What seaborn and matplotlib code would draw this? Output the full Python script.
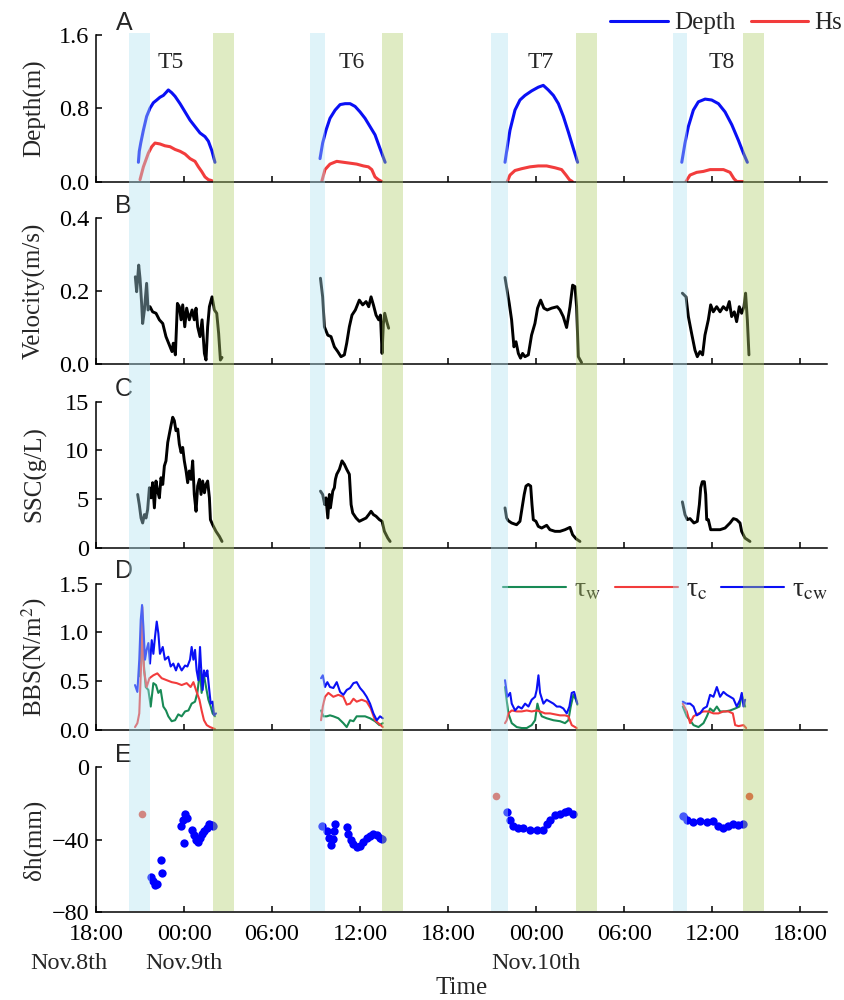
import numpy as np
import pandas as pd
import matplotlib
matplotlib.use("Agg")
import matplotlib.pyplot as plt
import seaborn as sns

# ---------------------------------------------------------------------------
# Time axis: hours elapsed since 18:00 on Nov. 8
# ---------------------------------------------------------------------------
TICK_HOURS = [0, 6, 12, 18, 24, 30, 36, 42, 48]
TICK_LABELS = ["18:00", "00:00", "06:00", "12:00", "18:00",
               "00:00", "06:00", "12:00", "18:00"]
DATE_LABELS = ["Nov.8th", "Nov.9th", "Nov.10th"]
DATE_HOURS = [-1.85, 6.0, 30.0]
X_MAX = 49.83

TIDE_NAMES = ["T5", "T6", "T7", "T8"]
TIDE_LABEL_HOURS = [5.08, 17.43, 30.33, 42.65]

# flood (start) and ebb (end) windows of each tide
FLOOD_WINDOWS = [(2.25, 3.66), (14.60, 15.63), (26.93, 28.07), (39.33, 40.29)]
EBB_WINDOWS = [(7.95, 9.39), (19.50, 20.92), (32.72, 34.15), (44.13, 45.56)]

# ---------------------------------------------------------------------------
# A: water depth and significant wave height (m)
# ---------------------------------------------------------------------------
depth_t5 = [(2.89, 0.21), (2.95, 0.33), (3.05, 0.42), (3.23, 0.56), (3.45, 0.71),
            (3.68, 0.80), (3.91, 0.86), (4.14, 0.89), (4.36, 0.92), (4.59, 0.94),
            (4.82, 0.98), (4.93, 1.00), (5.16, 0.97), (5.39, 0.93), (5.73, 0.85),
            (6.07, 0.76), (6.41, 0.67), (6.75, 0.60), (7.09, 0.53), (7.43, 0.49),
            (7.66, 0.44), (7.89, 0.34), (8.11, 0.21)]
depth_t6 = [(15.27, 0.25), (15.45, 0.42), (15.68, 0.56), (15.95, 0.69), (16.30, 0.78),
            (16.64, 0.84), (16.98, 0.85), (17.32, 0.85), (17.66, 0.82), (18.00, 0.76),
            (18.34, 0.69), (18.68, 0.60), (19.02, 0.51), (19.36, 0.36), (19.71, 0.21)]
depth_t7 = [(27.88, 0.21), (28.04, 0.38), (28.22, 0.56), (28.56, 0.78), (28.90, 0.89),
            (29.24, 0.94), (29.70, 0.99), (30.15, 1.03), (30.49, 1.05), (30.83, 1.00),
            (31.18, 0.94), (31.52, 0.85), (31.86, 0.71), (32.20, 0.54), (32.54, 0.36),
            (32.83, 0.21)]
depth_t8 = [(39.93, 0.21), (40.15, 0.42), (40.38, 0.60), (40.72, 0.78), (41.06, 0.87),
            (41.52, 0.90), (41.97, 0.89), (42.43, 0.85), (42.88, 0.76), (43.34, 0.62),
            (43.79, 0.45), (44.13, 0.31), (44.40, 0.21)]

hs_t5 = [(3.00, 0.02), (3.23, 0.16), (3.57, 0.31), (3.80, 0.38), (4.02, 0.42),
         (4.36, 0.41), (4.70, 0.39), (5.05, 0.38), (5.39, 0.35), (5.73, 0.33),
         (6.07, 0.30), (6.41, 0.25), (6.75, 0.22), (6.98, 0.16), (7.20, 0.11),
         (7.43, 0.05), (7.66, 0.02), (7.89, 0.01)]
hs_t6 = [(15.39, 0.00), (15.61, 0.13), (15.95, 0.19), (16.41, 0.22), (16.86, 0.21),
         (17.32, 0.20), (17.77, 0.19), (18.23, 0.17), (18.57, 0.16), (18.80, 0.13),
         (19.02, 0.05), (19.25, 0.02), (19.48, 0.00)]
hs_t7 = [(28.04, 0.00), (28.22, 0.07), (28.56, 0.12), (29.02, 0.14), (29.58, 0.16),
         (30.15, 0.17), (30.72, 0.17), (31.29, 0.15), (31.74, 0.13), (32.04, 0.07),
         (32.27, 0.02), (32.47, 0.00)]
hs_t8 = [(40.22, 0.00), (40.49, 0.07), (40.95, 0.10), (41.40, 0.11), (41.86, 0.13),
         (42.31, 0.13), (42.77, 0.13), (43.22, 0.10), (43.49, 0.03), (43.68, 0.00),
         (44.08, 0.00)]

# ---------------------------------------------------------------------------
# B: near-bed current velocity (m/s)
# ---------------------------------------------------------------------------
vel_t5 = [(2.68, 0.239), (2.77, 0.198), (2.91, 0.271), (3.00, 0.235), (3.11, 0.166),
          (3.18, 0.111), (3.30, 0.148), (3.45, 0.221), (3.55, 0.148), (3.68, 0.157),
          (3.86, 0.143), (4.09, 0.139), (4.32, 0.121), (4.55, 0.111), (4.77, 0.075),
          (5.00, 0.052), (5.18, 0.034), (5.27, 0.057), (5.41, 0.025), (5.55, 0.166),
          (5.68, 0.157), (5.80, 0.121), (5.91, 0.162), (6.05, 0.102), (6.18, 0.153),
          (6.36, 0.121), (6.55, 0.148), (6.70, 0.121), (6.82, 0.153), (6.93, 0.102),
          (7.09, 0.075), (7.23, 0.121), (7.39, 0.029), (7.50, 0.011), (7.61, 0.102),
          (7.73, 0.157), (7.91, 0.184), (8.07, 0.148), (8.23, 0.139), (8.36, 0.084),
          (8.48, 0.011), (8.59, 0.018)]
vel_t6 = [(15.30, 0.235), (15.45, 0.184), (15.57, 0.102), (15.80, 0.079), (16.02, 0.075),
          (16.25, 0.047), (16.48, 0.034), (16.70, 0.020), (16.93, 0.025), (17.09, 0.057),
          (17.27, 0.102), (17.45, 0.134), (17.68, 0.148), (17.95, 0.175), (18.18, 0.162),
          (18.41, 0.171), (18.59, 0.157), (18.75, 0.184), (18.91, 0.162), (19.09, 0.134),
          (19.27, 0.121), (19.39, 0.134), (19.50, 0.029), (19.59, 0.111), (19.68, 0.139),
          (19.82, 0.116), (19.95, 0.098)]
vel_t7 = [(27.88, 0.237), (28.17, 0.166), (28.33, 0.121), (28.49, 0.047), (28.63, 0.061),
          (28.79, 0.029), (28.94, 0.016), (29.08, 0.029), (29.24, 0.020), (29.47, 0.025),
          (29.69, 0.079), (29.92, 0.111), (30.10, 0.153), (30.31, 0.175), (30.53, 0.153),
          (30.76, 0.148), (31.06, 0.153), (31.44, 0.157), (31.63, 0.148), (31.85, 0.130),
          (32.08, 0.100), (32.31, 0.157), (32.49, 0.216), (32.65, 0.212), (32.76, 0.157),
          (32.88, 0.020), (33.10, 0.004)]
vel_t8 = [(39.97, 0.194), (40.22, 0.184), (40.38, 0.130), (40.60, 0.084), (40.83, 0.038),
          (40.99, 0.020), (41.17, 0.034), (41.35, 0.025), (41.51, 0.079), (41.74, 0.121),
          (41.90, 0.162), (42.08, 0.143), (42.31, 0.157), (42.54, 0.143), (42.76, 0.157),
          (42.99, 0.148), (43.17, 0.171), (43.33, 0.130), (43.51, 0.143), (43.67, 0.116),
          (43.85, 0.157), (44.01, 0.139), (44.17, 0.157), (44.28, 0.194), (44.40, 0.121),
          (44.51, 0.025)]

# ---------------------------------------------------------------------------
# C: suspended sediment concentration (g/L)
# ---------------------------------------------------------------------------
ssc_t5 = [(2.84, 5.45), (2.95, 4.41), (3.07, 3.03), (3.18, 2.52), (3.30, 3.38),
          (3.41, 3.03), (3.52, 3.90), (3.64, 6.14), (3.75, 5.10), (3.86, 6.66),
          (3.98, 4.07), (4.09, 6.83), (4.20, 5.79), (4.32, 5.10), (4.43, 7.17),
          (4.55, 6.48), (4.66, 8.38), (4.77, 8.90), (4.89, 10.79), (5.00, 11.66),
          (5.11, 12.52), (5.23, 13.38), (5.34, 13.03), (5.45, 12.00), (5.57, 12.17),
          (5.68, 10.62), (5.80, 9.76), (5.91, 10.28), (6.02, 8.90), (6.14, 7.86),
          (6.25, 6.66), (6.36, 7.86), (6.48, 7.00), (6.59, 8.90), (6.70, 5.45),
          (6.82, 3.72), (6.93, 6.31), (7.05, 7.00), (7.16, 5.45), (7.27, 6.83),
          (7.39, 5.62), (7.50, 6.48), (7.61, 6.83), (7.73, 5.10), (7.80, 2.86),
          (7.95, 2.34), (8.18, 1.66), (8.41, 1.14), (8.59, 0.62)]
ssc_t6 = [(15.30, 5.79), (15.45, 5.45), (15.59, 4.41), (15.68, 5.10), (15.80, 3.03),
          (15.91, 5.45), (15.98, 4.07), (16.14, 5.79), (16.25, 6.14), (16.32, 7.00),
          (16.41, 7.52), (16.59, 8.03), (16.77, 8.90), (16.93, 8.55), (17.09, 8.03),
          (17.27, 7.52), (17.39, 4.41), (17.50, 3.55), (17.73, 3.03), (17.95, 2.69),
          (18.18, 2.86), (18.41, 3.03), (18.59, 3.38), (18.75, 3.72), (18.91, 3.38),
          (19.09, 3.21), (19.32, 2.86), (19.50, 2.69), (19.66, 1.66), (19.89, 0.97),
          (20.05, 0.62)]
ssc_t7 = [(27.88, 4.07), (27.99, 3.03), (28.10, 2.76), (28.33, 2.52), (28.67, 2.34),
          (28.90, 2.69), (29.08, 4.41), (29.19, 5.45), (29.31, 6.31), (29.47, 6.48),
          (29.63, 6.31), (29.72, 4.41), (29.81, 2.86), (29.99, 2.69), (30.15, 2.17),
          (30.38, 2.00), (30.72, 2.28), (30.94, 1.83), (31.29, 1.66), (31.63, 1.66),
          (31.97, 1.83), (32.31, 2.07), (32.49, 1.31), (32.72, 0.90), (32.99, 0.62)]
ssc_t8 = [(39.97, 4.69), (40.15, 3.38), (40.31, 2.86), (40.49, 2.97), (40.76, 2.52),
          (40.99, 2.69), (41.13, 4.41), (41.22, 6.14), (41.33, 6.76), (41.47, 6.76),
          (41.56, 5.45), (41.63, 2.86), (41.74, 2.86), (41.90, 1.83), (42.20, 1.83),
          (42.54, 1.83), (42.88, 2.00), (43.22, 2.52), (43.45, 2.97), (43.67, 2.86),
          (43.90, 2.52), (44.01, 1.66), (44.24, 0.97), (44.58, 0.62)]

# ---------------------------------------------------------------------------
# D: bed shear stress (N/m2): wave, current and combined
# ---------------------------------------------------------------------------
tw_t5 = [(2.95, 0.55), (3.11, 1.09), (3.23, 0.72), (3.39, 0.44), (3.57, 0.41),
         (3.73, 0.24), (3.91, 0.48), (4.09, 0.46), (4.25, 0.38), (4.41, 0.41),
         (4.59, 0.24), (4.77, 0.20), (4.93, 0.14), (5.16, 0.09), (5.39, 0.10),
         (5.61, 0.16), (5.84, 0.14), (6.07, 0.19), (6.30, 0.20), (6.52, 0.27),
         (6.75, 0.29), (6.91, 0.38), (7.09, 0.61), (7.20, 0.38), (7.36, 0.56),
         (7.50, 0.44), (7.66, 0.31), (7.82, 0.24), (7.95, 0.17), (8.11, 0.14)]
tc_t5 = [(2.66, 0.03), (2.82, 0.07), (2.95, 0.17), (3.09, 0.72), (3.16, 1.26),
         (3.27, 0.61), (3.45, 0.44), (3.64, 0.53), (3.91, 0.56), (4.18, 0.58),
         (4.48, 0.53), (4.82, 0.51), (5.16, 0.49), (5.50, 0.48), (5.84, 0.46),
         (6.18, 0.48), (6.45, 0.44), (6.64, 0.49), (6.86, 0.39), (7.05, 0.31),
         (7.20, 0.20), (7.36, 0.10), (7.55, 0.05), (7.77, 0.03), (8.11, 0.01)]
tcw_t5 = [(2.66, 0.46), (2.82, 0.39), (2.95, 0.72), (3.05, 1.13), (3.14, 1.28),
          (3.23, 1.06), (3.34, 0.72), (3.45, 0.82), (3.57, 0.89), (3.68, 0.68),
          (3.80, 0.92), (3.91, 0.78), (4.02, 0.95), (4.14, 1.11), (4.25, 0.99),
          (4.36, 0.78), (4.55, 0.85), (4.70, 0.72), (4.93, 0.75), (5.09, 0.65),
          (5.27, 0.68), (5.45, 0.61), (5.61, 0.68), (5.84, 0.61), (6.07, 0.66),
          (6.23, 0.65), (6.41, 0.72), (6.52, 0.85), (6.64, 0.72), (6.75, 0.82),
          (6.86, 0.61), (6.98, 0.51), (7.09, 0.85), (7.16, 0.65), (7.27, 0.41),
          (7.36, 0.61), (7.50, 0.55), (7.59, 0.61), (7.70, 0.44), (7.82, 0.27),
          (7.95, 0.29), (8.05, 0.15), (8.18, 0.17)]
tw_t6 = [(15.34, 0.20), (15.50, 0.14), (15.73, 0.14), (15.95, 0.15), (16.18, 0.14),
         (16.52, 0.12), (16.86, 0.07), (17.09, 0.03), (17.32, 0.10), (17.55, 0.09),
         (17.77, 0.14), (18.00, 0.14), (18.34, 0.14), (18.68, 0.12), (19.02, 0.09),
         (19.32, 0.05), (19.55, 0.07)]
tc_t6 = [(15.34, 0.10), (15.46, 0.24), (15.61, 0.34), (15.84, 0.38), (16.18, 0.34),
         (16.52, 0.36), (16.86, 0.34), (17.09, 0.26), (17.32, 0.27), (17.55, 0.32),
         (17.77, 0.29), (18.11, 0.31), (18.45, 0.29), (18.73, 0.22), (19.02, 0.10),
         (19.25, 0.07), (19.55, 0.03)]
tcw_t6 = [(15.34, 0.53), (15.46, 0.56), (15.61, 0.44), (15.77, 0.49), (15.95, 0.44),
          (16.18, 0.43), (16.41, 0.49), (16.64, 0.39), (16.86, 0.36), (17.09, 0.41),
          (17.32, 0.43), (17.55, 0.48), (17.77, 0.49), (18.00, 0.43), (18.23, 0.39),
          (18.45, 0.34), (18.68, 0.27), (18.91, 0.17), (19.14, 0.10), (19.36, 0.14),
          (19.55, 0.12)]
tw_t7 = [(27.88, 0.44), (28.11, 0.17), (28.34, 0.07), (28.68, 0.03), (29.02, 0.02),
         (29.36, 0.02), (29.70, 0.05), (29.93, 0.10), (30.09, 0.27), (30.23, 0.19),
         (30.39, 0.14), (30.72, 0.12), (31.18, 0.10), (31.63, 0.09), (31.97, 0.07),
         (32.20, 0.10), (32.36, 0.24), (32.54, 0.36), (32.72, 0.31), (32.81, 0.26)]
tc_t7 = [(27.88, 0.07), (28.00, 0.10), (28.11, 0.17), (28.34, 0.20), (28.68, 0.19),
         (29.02, 0.19), (29.36, 0.20), (29.70, 0.19), (30.04, 0.20), (30.27, 0.19),
         (30.61, 0.17), (30.95, 0.17), (31.29, 0.16), (31.63, 0.15), (31.97, 0.15),
         (32.20, 0.14), (32.43, 0.05), (32.77, 0.02)]
tcw_t7 = [(27.88, 0.51), (28.04, 0.34), (28.23, 0.38), (28.34, 0.27), (28.57, 0.20),
          (28.79, 0.24), (29.02, 0.22), (29.25, 0.27), (29.48, 0.24), (29.70, 0.31),
          (29.93, 0.34), (30.04, 0.41), (30.16, 0.56), (30.27, 0.38), (30.50, 0.27),
          (30.72, 0.31), (30.95, 0.29), (31.18, 0.27), (31.41, 0.24), (31.63, 0.24),
          (31.86, 0.22), (32.09, 0.17), (32.27, 0.24), (32.43, 0.38), (32.59, 0.39),
          (32.72, 0.32), (32.81, 0.27)]
tw_t8 = [(40.00, 0.24), (40.27, 0.14), (40.50, 0.10), (40.73, 0.05), (41.07, 0.03),
         (41.41, 0.07), (41.64, 0.14), (41.86, 0.22), (42.09, 0.19), (42.32, 0.24),
         (42.54, 0.19), (42.88, 0.19), (43.23, 0.20), (43.57, 0.22), (43.86, 0.24),
         (44.02, 0.36), (44.25, 0.24)]
tc_t8 = [(40.00, 0.27), (40.27, 0.19), (40.50, 0.07), (40.73, 0.14), (41.07, 0.17),
         (41.41, 0.19), (41.75, 0.19), (42.09, 0.17), (42.43, 0.17), (42.77, 0.19),
         (43.11, 0.19), (43.41, 0.17), (43.57, 0.05), (43.80, 0.04), (44.14, 0.05),
         (44.32, 0.02)]
tcw_t8 = [(40.00, 0.29), (40.23, 0.27), (40.50, 0.27), (40.73, 0.24), (40.95, 0.15),
          (41.18, 0.17), (41.41, 0.22), (41.64, 0.24), (41.86, 0.36), (42.09, 0.34),
          (42.32, 0.44), (42.54, 0.34), (42.77, 0.39), (43.00, 0.36), (43.23, 0.34),
          (43.45, 0.32), (43.68, 0.24), (43.91, 0.31), (44.02, 0.38), (44.14, 0.24),
          (44.25, 0.31)]

# ---------------------------------------------------------------------------
# E: bed-level change (mm)
# ---------------------------------------------------------------------------
dh_t5 = [(3.73, -60.6), (3.86, -62.8), (4.02, -65.1), (4.14, -64.6), (4.43, -51.4),
         (4.52, -58.3), (5.80, -32.7), (5.91, -29.4), (6.07, -26.1), (6.23, -27.9),
         (6.02, -41.7), (6.52, -34.5), (6.68, -37.6), (6.82, -40.0), (6.98, -41.3),
         (7.09, -38.9), (7.20, -37.1), (7.36, -35.2), (7.55, -33.4), (7.73, -31.6),
         (7.89, -32.1), (8.00, -32.7)]
dh_t6 = [(15.39, -32.5), (15.73, -35.2), (15.91, -39.4), (16.00, -43.1), (16.18, -39.8),
         (16.30, -31.2), (16.25, -35.2), (17.09, -33.0), (17.20, -36.7), (17.36, -40.0),
         (17.55, -42.6), (17.77, -44.0), (18.00, -43.7), (18.23, -41.3), (18.45, -39.4),
         (18.68, -38.2), (18.91, -36.7), (19.14, -37.6), (19.36, -39.1), (19.48, -39.8)]
dh_t7 = [(27.99, -24.8), (28.22, -29.4), (28.45, -32.7), (28.79, -33.9), (29.13, -33.4),
         (29.58, -34.5), (30.04, -34.5), (30.49, -34.5), (30.72, -31.2), (30.95, -29.4),
         (31.29, -26.6), (31.63, -26.1), (31.97, -24.8), (32.20, -24.2), (32.49, -25.7)]
dh_t8 = [(40.04, -27.2), (40.31, -29.4), (40.72, -30.3), (41.18, -29.9), (41.63, -30.3),
         (42.08, -29.9), (42.42, -32.7), (42.76, -33.4), (43.11, -32.7), (43.45, -31.6),
         (43.79, -32.1), (44.08, -31.6)]
dh_reference = [(3.11, -25.7), (27.27, -16.0), (44.52, -16.0)]


def frame(pairs, name):
    return pd.DataFrame(pairs, columns=["hour", name])


# ---------------------------------------------------------------------------
# Styling
# ---------------------------------------------------------------------------
sns.set_theme(style="ticks")
plt.rcParams["font.family"] = ["Liberation Serif", "DejaVu Serif"]
plt.rcParams["mathtext.fontset"] = "stix"
plt.rcParams["axes.linewidth"] = 1.1
plt.rcParams["xtick.direction"] = "in"
plt.rcParams["ytick.direction"] = "in"

TICK_FS = 17.5
LABEL_FS = 18
BLUE = "#0a10f5"
RED = "#f23c3c"
GREEN = "#188a55"
FLOOD_COLOR = "#afe1f0"
EBB_COLOR = "#afcd69"
SANS = ["Liberation Sans", "DejaVu Sans"]

fig = plt.figure(figsize=(8.44, 10.0), dpi=100)
LEFT, WIDTH = 96 / 844, (827 - 96) / 844
panel_px = [(35, 181.5), (218, 364), (401.5, 547.5), (583.5, 730), (767, 912)]
axes = []
for top, bottom in panel_px:
    ax = fig.add_axes([LEFT, 1 - bottom / 1000, WIDTH, (bottom - top) / 1000])
    ax.patch.set_alpha(0)
    axes.append(ax)
axA, axB, axC, axD, axE = axes

# --- A -----------------------------------------------------------------------
for i, (d, h) in enumerate(zip([depth_t5, depth_t6, depth_t7, depth_t8],
                               [hs_t5, hs_t6, hs_t7, hs_t8])):
    sns.lineplot(data=frame(d, "depth"), x="hour", y="depth", ax=axA, color=BLUE,
                 lw=2.2, sort=False, estimator=None,
                 label="Depth" if i == 0 else None, legend=False)
    sns.lineplot(data=frame(h, "hs"), x="hour", y="hs", ax=axA, color=RED,
                 lw=2.2, sort=False, estimator=None,
                 label="Hs" if i == 0 else None, legend=False)
axA.set_ylim(0, 1.6)
axA.set_yticks([0.0, 0.8, 1.6])
axA.set_yticklabels(["0.0", "0.8", "1.6"])
axA.set_ylabel("Depth(m)")
for name, hx in zip(TIDE_NAMES, TIDE_LABEL_HOURS):
    axA.text(hx, 1.305, name, ha="center", va="center", fontsize=17)
hA, lA = axA.get_legend_handles_labels()
axA.legend(hA, lA, loc="center right", bbox_to_anchor=(842 / 844, 1 - 23 / 1000),
           bbox_transform=fig.transFigure, ncol=2, frameon=False, fontsize=18,
           handlelength=2.3, handletextpad=0.25, columnspacing=0.6,
           borderpad=0, borderaxespad=0)

# --- B -----------------------------------------------------------------------
for v in [vel_t5, vel_t6, vel_t7, vel_t8]:
    sns.lineplot(data=frame(v, "vel"), x="hour", y="vel", ax=axB, color="black",
                 lw=2.1, sort=False, estimator=None)
axB.set_ylim(0, 0.4)
axB.set_yticks([0.0, 0.2, 0.4])
axB.set_yticklabels(["0.0", "0.2", "0.4"])
axB.set_ylabel("Velocity(m/s)")

# --- C -----------------------------------------------------------------------
for s in [ssc_t5, ssc_t6, ssc_t7, ssc_t8]:
    sns.lineplot(data=frame(s, "ssc"), x="hour", y="ssc", ax=axC, color="black",
                 lw=2.1, sort=False, estimator=None)
axC.set_ylim(0, 15)
axC.set_yticks([0, 5, 10, 15])
axC.set_ylabel("SSC(g/L)")

# --- D -----------------------------------------------------------------------
for i, (w, c, cw) in enumerate(zip([tw_t5, tw_t6, tw_t7, tw_t8],
                                   [tc_t5, tc_t6, tc_t7, tc_t8],
                                   [tcw_t5, tcw_t6, tcw_t7, tcw_t8])):
    sns.lineplot(data=frame(w, "tau"), x="hour", y="tau", ax=axD, color=GREEN,
                 lw=1.5, sort=False, estimator=None,
                 label=r"τ$_{\rm w}$" if i == 0 else None, legend=False)
    sns.lineplot(data=frame(c, "tau"), x="hour", y="tau", ax=axD, color=RED,
                 lw=1.5, sort=False, estimator=None,
                 label=r"τ$_{\rm c}$" if i == 0 else None, legend=False)
    sns.lineplot(data=frame(cw, "tau"), x="hour", y="tau", ax=axD, color=BLUE,
                 lw=1.5, sort=False, estimator=None,
                 label=r"τ$_{\rm cw}$" if i == 0 else None, legend=False)
axD.set_ylim(0, 1.5)
axD.set_yticks([0.0, 0.5, 1.0, 1.5])
axD.set_yticklabels(["0.0", "0.5", "1.0", "1.5"])
axD.set_ylabel(r"BBS(N/m$^2$)")
hD, lD = axD.get_legend_handles_labels()
axD.legend(hD, lD, loc="center right", bbox_to_anchor=(828 / 844, 1 - 590 / 1000),
           bbox_transform=fig.transFigure, ncol=3, frameon=False, fontsize=20,
           handlelength=2.25, handletextpad=0.3, columnspacing=0.5,
           borderpad=0, borderaxespad=0)

# --- E -----------------------------------------------------------------------
for p in [dh_t5, dh_t6, dh_t7, dh_t8]:
    sns.scatterplot(data=frame(p, "dh"), x="hour", y="dh", ax=axE, color="#0000ff",
                    s=36, linewidth=0, legend=False)
sns.scatterplot(data=frame(dh_reference, "dh"), x="hour", y="dh", ax=axE,
                color="#e84a3a", s=30, linewidth=0, legend=False)
axE.set_ylim(-80, 0)
axE.set_yticks([-80, -40, 0])
axE.set_ylabel("δh(mm)")

# --- shared axis formatting ----------------------------------------------------
for letter, ax in zip("ABCDE", axes):
    ax.set_xlim(0, X_MAX)
    ax.set_xticks(TICK_HOURS)
    ax.tick_params(axis="both", which="major", direction="in", length=4, width=1.1,
                   labelsize=TICK_FS, pad=5, color="black", labelcolor="black")
    ax.spines["top"].set_visible(False)
    ax.spines["right"].set_visible(False)
    for sp in ("left", "bottom"):
        ax.spines[sp].set_color("black")
    ax.yaxis.label.set_size(LABEL_FS)
    ax.yaxis.set_label_coords(-0.084, 0.5)
    ax.yaxis.label.set_va("center")
    ax.set_xlabel("")
    ax.text(0.038, 1.085, letter, transform=ax.transAxes, ha="center", va="center",
            fontsize=18, family=SANS)
    if ax is not axE:
        ax.tick_params(axis="x", labelbottom=False)

axE.set_xticklabels(TICK_LABELS)
axE.tick_params(axis="x", pad=9)
for lab, hx in zip(DATE_LABELS, DATE_HOURS):
    axE.text(hx, -0.355, lab, transform=axE.get_xaxis_transform(), ha="center",
             va="center", fontsize=TICK_FS)
axE.set_xlabel("Time", fontsize=LABEL_FS)
axE.xaxis.set_label_coords(0.5, -0.525)
axE.xaxis.label.set_va("center")

# --- flood / ebb windows spanning all panels ------------------------------------
band_ax = fig.add_axes([LEFT, 1 - 911 / 1000, WIDTH, (911 - 33) / 1000], zorder=10)
band_ax.set_xlim(0, X_MAX)
band_ax.set_ylim(0, 1)
band_ax.axis("off")
for a, b in FLOOD_WINDOWS:
    band_ax.axvspan(a, b, color=FLOOD_COLOR, alpha=0.4, lw=0)
for a, b in EBB_WINDOWS:
    band_ax.axvspan(a, b, color=EBB_COLOR, alpha=0.4, lw=0)

fig.savefig("out.png", dpi=100)
